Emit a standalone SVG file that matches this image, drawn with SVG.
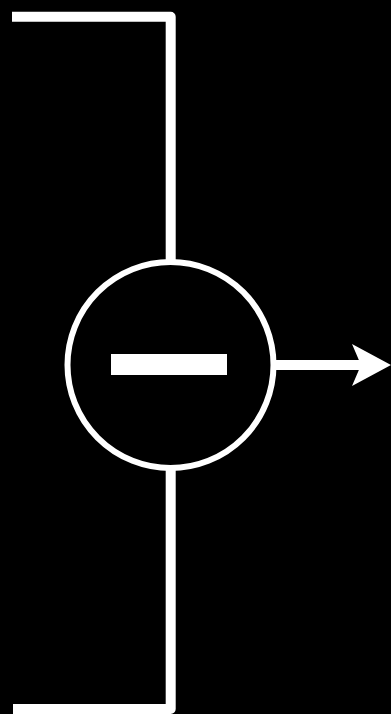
<svg xmlns="http://www.w3.org/2000/svg" width="391" height="714" viewBox="0 0 391 714">
<style>
.wire{fill:none;stroke:#fff;stroke-width:10;stroke-linejoin:round;stroke-linecap:butt}
</style>
<rect x="0" y="0" width="391" height="714" fill="#000"/>
<g id="connectors">
<path class="wire" d="M12,16.7 H170.7 V262"/>
<path class="wire" d="M170.7,468 V709 H13"/>
<path class="wire" d="M275,365 H362"/>
<polygon points="391,365 352,344 361,365 352,386" fill="#fff"/>
</g>
<g id="subtract">
<circle cx="170.5" cy="365" r="103" fill="#000" stroke="#fff" stroke-width="6"/>
<rect x="111" y="354" width="116" height="21" fill="#fff"/>
</g>
</svg>
